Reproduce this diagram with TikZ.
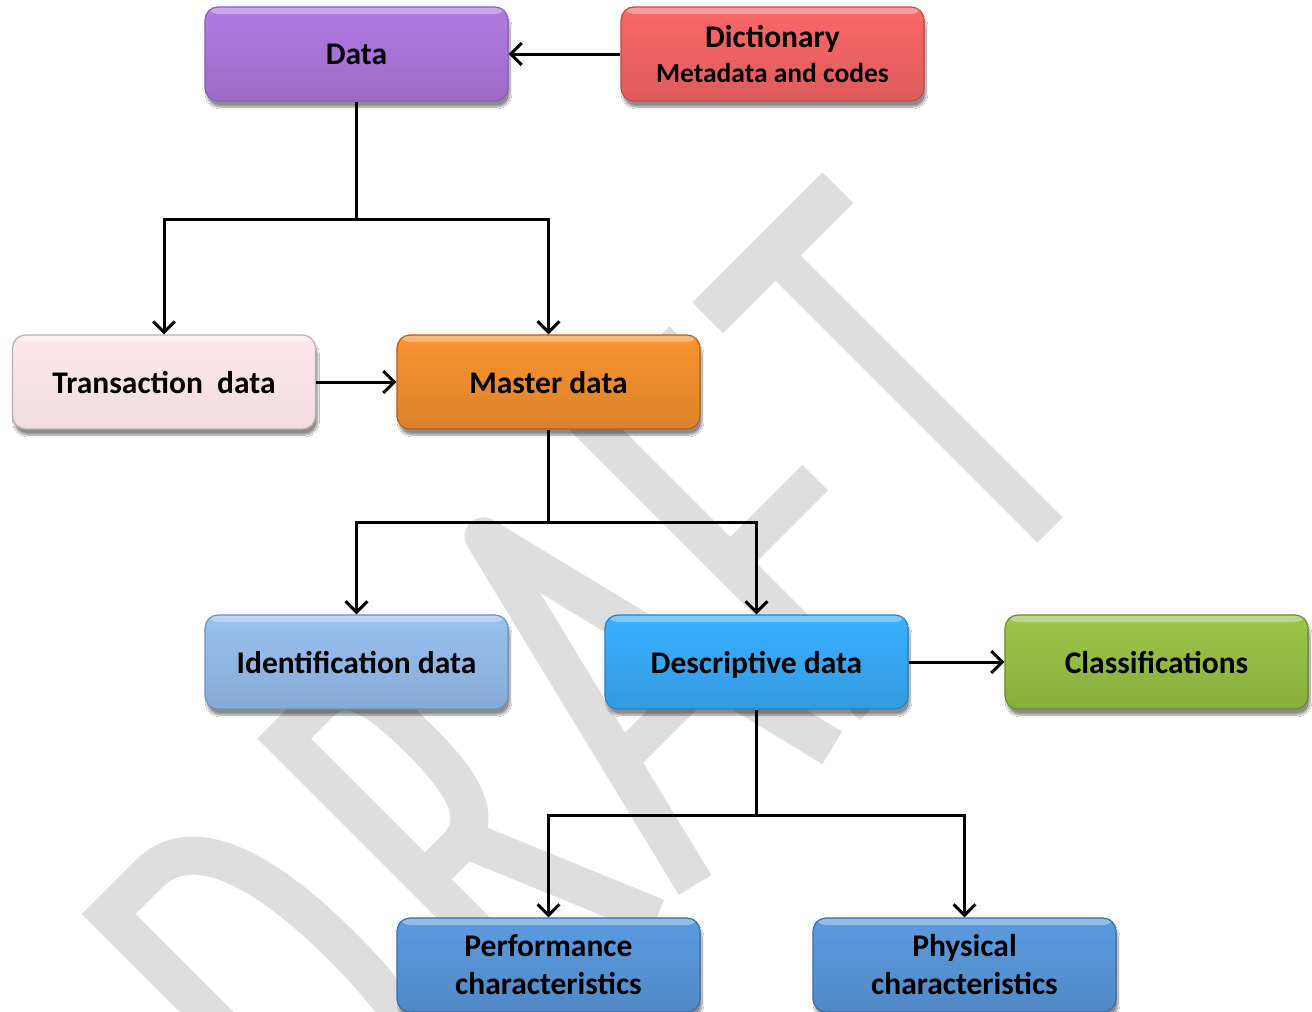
\documentclass[tikz,border=0pt]{standalone}
\usepackage{fontspec}
\setmainfont{Carlito}
\usetikzlibrary{arrows.meta,shadows.blur}

\definecolor{wmgray}{RGB}{222,222,222}
\definecolor{cData}{RGB}{178,122,226}
\definecolor{cDataB}{RGB}{138,92,186}
\definecolor{cDict}{RGB}{252,104,104}
\definecolor{cDictB}{RGB}{196,72,72}
\definecolor{cTrans}{RGB}{253,233,233}
\definecolor{cTransB}{RGB}{188,174,174}
\definecolor{cMaster}{RGB}{249,148,48}
\definecolor{cMasterB}{RGB}{178,96,30}
\definecolor{cIdent}{RGB}{153,194,242}
\definecolor{cIdentB}{RGB}{108,144,198}
\definecolor{cDesc}{RGB}{58,176,255}
\definecolor{cDescB}{RGB}{40,128,198}
\definecolor{cClass}{RGB}{156,198,72}
\definecolor{cClassB}{RGB}{108,138,44}
\definecolor{cChar}{RGB}{92,155,224}
\definecolor{cCharB}{RGB}{58,108,172}

\begin{document}
\begin{tikzpicture}[x=1pt,y=-1pt,
  box/.style={rounded corners=13pt, minimum width=303pt, minimum height=94pt,
    line width=1.2pt, inner sep=0pt, align=center,
    font=\bfseries\fontsize{31.5}{38}\selectfont,
    blur shadow={shadow xshift=2pt, shadow yshift=-6pt, shadow blur steps=8, shadow opacity=45},
    path picture={\fill[white, opacity=0.35]
      (path picture bounding box.north west) rectangle ([yshift=-7pt]path picture bounding box.north east);}},
  glossy/.style 2 args={box, top color=#1, middle color=#1, bottom color=#1!88!black, draw=#2},
  oneline/.style={text depth=0pt},
  link/.style={line width=3pt},
  conn/.style={line width=3pt, -{Straight Barb[length=11pt,width=22pt]}}]

\useasboundingbox (0,0) rectangle (1312,1012);
\clip (0,0) rectangle (1312,1012);
\fill[white] (0,0) rectangle (1312,1012);

% watermark lettering, laid out along a 45 degree baseline
\begin{scope}[shift={(1050,530)}, x={(0.7071pt,0.7071pt)}, y={(-0.7071pt,0.7071pt)},
    stroke/.style={draw=wmgray, line width=38pt}]
  % D
  \draw[stroke] (-937,19) -- (-937,394) -- (-880,394)
    .. controls (-825,394) and (-795,330) .. (-795,206)
    .. controls (-795,82) and (-825,19) .. (-880,19) -- cycle;
  % R
  \draw[stroke] (-689,0) -- (-689,394) -- (-640,394)
    .. controls (-602,394) and (-594,360) .. (-594,295)
    .. controls (-594,230) and (-606,195) .. (-645,195) -- (-689,195);
  \draw[stroke] (-630,190) -- (-552,4);
  % A
  \draw[stroke, line join=round] (-502,0) -- (-405,396) -- (-308,0);
  \draw[stroke, line width=34pt] (-475,140) -- (-335,140);
  % F
  \draw[stroke] (-250,0) -- (-250,394) -- (-125,394);
  \draw[stroke, line width=36pt] (-250,203) -- (-129,203);
  % T
  \draw[stroke, line width=43pt] (-92,392) -- (92,392);
  \draw[stroke, line width=36pt] (0,0) -- (0,392);
\end{scope}

% boxes
\node[glossy={cData}{cDataB}, oneline] (data) at (356.5,54) {Data};
\node[glossy={cDict}{cDictB}] (dict) at (772.5,54)
  {Dictionary\\[-3pt]{\fontsize{27.5}{33}\selectfont Metadata and codes}};
\node[glossy={cTrans}{cTransB}, bottom color=cTrans!95!black, oneline] (trans) at (164,382) {Transaction\ \ data};
\node[glossy={cMaster}{cMasterB}, oneline] (master) at (548.5,382) {Master data};
\node[glossy={cIdent}{cIdentB}, oneline] (ident) at (356.5,662) {Identification data};
\node[glossy={cDesc}{cDescB}, oneline] (desc) at (756.5,662) {Descriptive data};
\node[glossy={cClass}{cClassB}, oneline] (class) at (1156.5,662) {Classifications};
\node[glossy={cChar}{cCharB}] (perf) at (548.5,965) {Performance\\characteristics};
\node[glossy={cChar}{cCharB}] (phys) at (964.5,965) {Physical\\characteristics};

% branching points
\coordinate (j1) at (356.5,219);
\coordinate (j2) at (548.5,522);
\coordinate (j3) at (756.5,815);

% connectors
\draw[conn] (dict.west) -- (data.east);
\draw[link] (data.south) -- (j1);
\draw[conn] (j1) -| (trans.north);
\draw[conn] (j1) -| (master.north);
\draw[conn] (trans.east) -- (master.west);
\draw[link] (master.south) -- (j2);
\draw[conn] (j2) -| (ident.north);
\draw[conn] (j2) -| (desc.north);
\draw[conn] (desc.east) -- (class.west);
\draw[link] (desc.south) -- (j3);
\draw[conn] (j3) -| (perf.north);
\draw[conn] (j3) -| (phys.north);
\end{tikzpicture}
\end{document}
